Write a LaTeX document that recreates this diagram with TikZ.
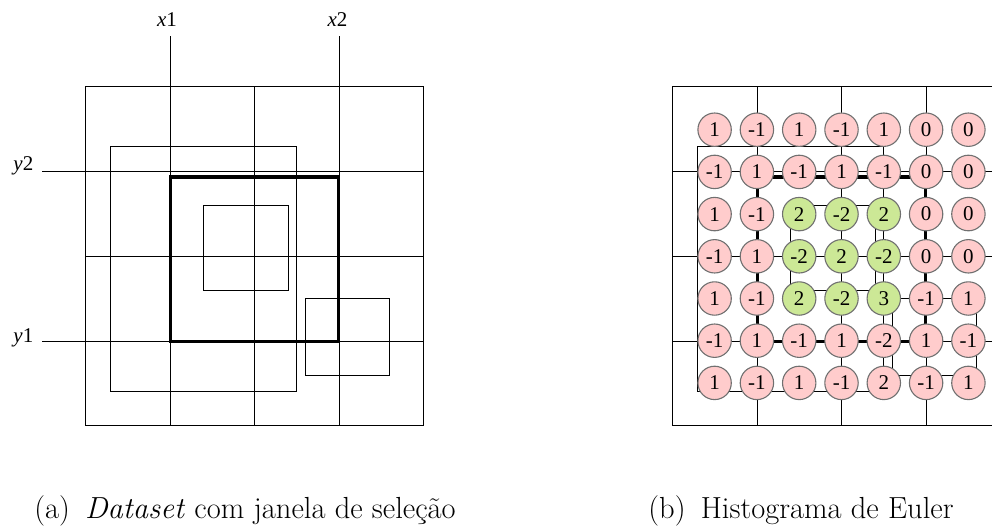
\documentclass[tikz,border=0pt]{standalone}
\usepackage{fontspec}
\newfontfamily\timesf{Liberation Serif}
\definecolor{pinkfill}{RGB}{255,204,204}
\definecolor{greenfill}{RGB}{204,232,150}
\definecolor{ringgray}{RGB}{112,112,112}
\tikzset{
  thinline/.style={line width=1.3pt, black},
  thickline/.style={line width=3.3pt, black},
  cell/.style={circle, draw=ringgray, line width=1.1pt, fill=pinkfill,
    minimum size=33.4pt, inner sep=0pt, font=\timesf\fontsize{21}{21}\selectfont},
  lbl/.style={font=\timesf\fontsize{21}{22}\selectfont, inner sep=0pt},
  captext/.style={font=\fontsize{30.5}{36}\selectfont, inner sep=0pt, anchor=base}
}
\newcommand\dsLines{%
  \draw[thinline] (85.5,86.5) rectangle (423.5,425.5);
  \draw[thinline] (170.5,86.5) -- (170.5,425.5) (254.5,86.5) -- (254.5,425.5) (339.5,86.5) -- (339.5,425.5);
  \draw[thinline] (85.5,171.5) -- (423.5,171.5) (85.5,256.5) -- (423.5,256.5) (85.5,341.5) -- (423.5,341.5);
  \draw[thinline] (110.5,146.5) rectangle (296.5,391.5);
  \draw[thinline] (203.5,205.5) rectangle (288.5,290.5);
  \draw[thinline] (305.5,298.5) rectangle (389.5,375.5);
  \draw[thickline] (170.5,177) rectangle (338.5,341.5);
}
\begin{document}
\begin{tikzpicture}[x=1pt,y=-1pt]
\useasboundingbox (0,0) rectangle (992,528);
% (a) dataset
\begin{scope}
  \dsLines
  \coordinate (x1top) at (170.5,36);
  \coordinate (x2top) at (339.5,36);
  \coordinate (y2left) at (42,171.5);
  \coordinate (y1left) at (42,341.5);
  \draw[thinline] (x1top) -- (170.5,86.5);
  \draw[thinline] (x2top) -- (339.5,86.5);
  \draw[thinline] (y2left) -- (85.5,171.5);
  \draw[thinline] (y1left) -- (85.5,341.5);
  \node[lbl, anchor=base] (lx1) at (167,26.5) {\textit{x}1};
  \node[lbl, anchor=base] (lx2) at (337.5,26.5) {\textit{x}2};
  \node[lbl, anchor=base east] (ly2) at (33.5,170.5) {\textit{y}2};
  \node[lbl, anchor=base east] (ly1) at (33.5,342.5) {\textit{y}1};
\end{scope}
% (b) Euler histogram
\begin{scope}[xshift=587pt]
  \dsLines
  \foreach \row [count=\j] in {{1,-1,1,-1,1,0,0},{-1,1,-1,1,-1,0,0},{1,-1,2,-2,2,0,0},{-1,1,-2,2,-2,0,0},{1,-1,2,-2,3,-1,1},{-1,1,-1,1,-2,1,-1},{1,-1,1,-1,2,-1,1}}{
    \foreach \v [count=\i] in \row {
      \pgfmathtruncatemacro\isgreen{and(and(\i>2,\i<6),and(\j>2,\j<6))}
      \ifnum\isgreen=1 \def\cfill{greenfill}\else\def\cfill{pinkfill}\fi
      \node[cell, fill=\cfill] (c-\j-\i) at ({85.3+42.3*\i},{87.5+42.2*\j}) {\v};
    }
  }
\end{scope}
% captions
\node[captext] (capa) at (245,518) {(a)\enspace\textit{Dataset} com janela de seleção};
\node[captext] (capb) at (801,518) {(b)\enspace Histograma de Euler};
\end{tikzpicture}
\end{document}
